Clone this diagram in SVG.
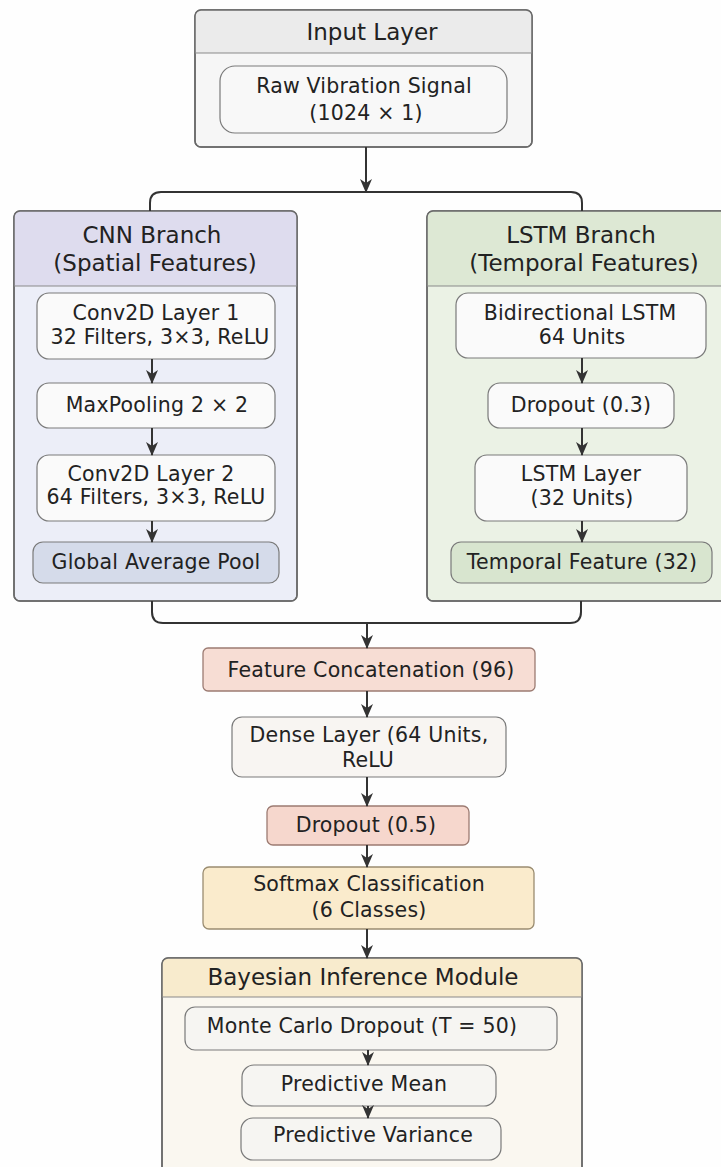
<svg xmlns="http://www.w3.org/2000/svg" width="721" height="1167" viewBox="0 0 721 1167">
<style>
text{font-family:"DejaVu Sans","Liberation Sans",sans-serif;fill:#222;text-anchor:middle;dominant-baseline:central}
.h{font-size:23px}
.b{font-size:20.5px;letter-spacing:0.2px}
.outer{stroke:#6a6a6a;stroke-width:1.5}
.inner{stroke:#7a7a7a;stroke-width:1.2}
.div{stroke:#8a8a8a;stroke-width:1.2}
.con{fill:none;stroke:#333;stroke-width:2}
</style>
<defs>
<marker id="ah" viewBox="0 0 14 12" refX="13" refY="6" markerWidth="14" markerHeight="12" markerUnits="userSpaceOnUse" orient="auto">
<path d="M0,0 L14,6 L0,12 L4,6 z" fill="#333"/>
</marker>
</defs>
<rect width="721" height="1167" fill="#fefefe"/>

<g id="input-layer">
<rect x="195" y="10" width="337" height="137" rx="6" fill="#f6f6f6" class="outer"/>
<path d="M195,53 V16 Q195,10 201,10 H526 Q532,10 532,16 V53 Z" fill="#ebebeb"/>
<rect x="195" y="10" width="337" height="137" rx="6" fill="none" class="outer"/>
<line x1="195" y1="53" x2="532" y2="53" class="div"/>
<text class="h" x="372" y="32">Input Layer</text>
</g>
<g id="raw-signal">
<rect x="220" y="66" width="287" height="67" rx="15" fill="#f8f8f8" class="inner"/>
<text class="b" x="364" y="86">Raw Vibration Signal</text>
<text class="b" x="366" y="113">(1024 × 1)</text>
</g>

<g id="cnn-branch">
<rect x="14" y="211" width="283" height="390" rx="6" fill="#eceef8" class="outer"/>
<path d="M14,286 V217 Q14,211 20,211 H291 Q297,211 297,217 V286 Z" fill="#dedcee"/>
<rect x="14" y="211" width="283" height="390" rx="6" fill="none" class="outer"/>
<line x1="14" y1="286" x2="297" y2="286" class="div"/>
<text class="h" x="152" y="235">CNN Branch</text>
<text class="h" x="155" y="263">(Spatial Features)</text>
</g>
<g id="conv1">
<rect x="37" y="293" width="238" height="66" rx="12" fill="#fafafa" class="inner"/>
<text class="b" x="156" y="313">Conv2D Layer 1</text>
<text class="b" x="160" y="337">32 Filters, 3×3, ReLU</text>
</g>
<g id="maxpool">
<rect x="37" y="383" width="238" height="45" rx="12" fill="#fafafa" class="inner"/>
<text class="b" x="157" y="405">MaxPooling 2 × 2</text>
</g>
<g id="conv2">
<rect x="37" y="455" width="238" height="66" rx="12" fill="#fafafa" class="inner"/>
<text class="b" x="151" y="474">Conv2D Layer 2</text>
<text class="b" x="156" y="497">64 Filters, 3×3, ReLU</text>
</g>
<g id="gap">
<rect x="33" y="542" width="246" height="41" rx="10" fill="#d5dbea" class="inner"/>
<text class="b" x="156" y="562">Global Average Pool</text>
</g>

<g id="lstm-branch">
<rect x="427" y="211" width="310" height="390" rx="6" fill="#ebf2e5" class="outer"/>
<path d="M427,286 V217 Q427,211 433,211 H737 V286 Z" fill="#dde8d4"/>
<rect x="427" y="211" width="310" height="390" rx="6" fill="none" class="outer"/>
<line x1="427" y1="286" x2="737" y2="286" class="div"/>
<text class="h" x="581" y="235">LSTM Branch</text>
<text class="h" x="584" y="263">(Temporal Features)</text>
</g>
<g id="bilstm">
<rect x="456" y="293" width="250" height="65" rx="12" fill="#fafafa" class="inner"/>
<text class="b" x="580" y="313">Bidirectional LSTM</text>
<text class="b" x="582" y="337">64 Units</text>
</g>
<g id="dropout03">
<rect x="488" y="383" width="186" height="45" rx="12" fill="#fafafa" class="inner"/>
<text class="b" x="581" y="405">Dropout (0.3)</text>
</g>
<g id="lstm-layer">
<rect x="475" y="455" width="212" height="66" rx="12" fill="#fafafa" class="inner"/>
<text class="b" x="581" y="474">LSTM Layer</text>
<text class="b" x="582" y="498">(32 Units)</text>
</g>
<g id="temporal-feature">
<rect x="451" y="542" width="261" height="41" rx="10" fill="#d8e5cf" class="inner"/>
<text class="b" x="582" y="562">Temporal Feature (32)</text>
</g>

<g id="concat">
<rect x="203" y="648" width="332" height="43" rx="5" fill="#f7ddd4" stroke="#9c7b72" stroke-width="1.3"/>
<text class="b" x="371" y="670">Feature Concatenation (96)</text>
</g>
<g id="dense">
<rect x="232" y="717" width="274" height="60" rx="10" fill="#f8f5f2" class="inner"/>
<text class="b" x="369" y="735">Dense Layer (64 Units,</text>
<text class="b" x="368" y="760">ReLU</text>
</g>
<g id="dropout05">
<rect x="267" y="806" width="202" height="39" rx="6" fill="#f6d7cd" stroke="#9c7b72" stroke-width="1.3"/>
<text class="b" x="366" y="825">Dropout (0.5)</text>
</g>
<g id="softmax">
<rect x="203" y="867" width="331" height="62" rx="6" fill="#faebcc" stroke="#9a8c70" stroke-width="1.3"/>
<text class="b" x="369" y="884">Softmax Classification</text>
<text class="b" x="369" y="910">(6 Classes)</text>
</g>

<g id="bayesian">
<rect x="162" y="958" width="420" height="230" rx="6" fill="#faf7f0" class="outer"/>
<path d="M162,997 V964 Q162,958 168,958 H576 Q582,958 582,964 V997 Z" fill="#f8ebcd"/>
<rect x="162" y="958" width="420" height="230" rx="6" fill="none" class="outer"/>
<line x1="162" y1="997" x2="582" y2="997" class="div"/>
<text class="h" x="363" y="977">Bayesian Inference Module</text>
</g>
<g id="mc-dropout">
<rect x="185" y="1007" width="372" height="43" rx="10" fill="#f6f5f2" class="inner"/>
<text class="b" x="362" y="1026">Monte Carlo Dropout (T = 50)</text>
</g>
<g id="pred-mean">
<rect x="242" y="1065" width="254" height="41" rx="12" fill="#f6f5f2" class="inner"/>
<text class="b" x="364" y="1084">Predictive Mean</text>
</g>
<g id="pred-var">
<rect x="241" y="1118" width="260" height="42" rx="12" fill="#f6f5f2" class="inner"/>
<text class="b" x="373" y="1135">Predictive Variance</text>
</g>

<g id="connectors">
<line x1="366" y1="147" x2="366" y2="192" class="con" marker-end="url(#ah)"/>
<path d="M150,211 V203 Q150,192 161,192 H571 Q582,192 582,203 V211" class="con"/>
<line x1="152" y1="359" x2="152" y2="383" class="con" marker-end="url(#ah)"/>
<line x1="152" y1="428" x2="152" y2="455" class="con" marker-end="url(#ah)"/>
<line x1="152" y1="521" x2="152" y2="542" class="con" marker-end="url(#ah)"/>
<line x1="582" y1="358" x2="582" y2="383" class="con" marker-end="url(#ah)"/>
<line x1="582" y1="428" x2="582" y2="455" class="con" marker-end="url(#ah)"/>
<line x1="582" y1="521" x2="582" y2="542" class="con" marker-end="url(#ah)"/>
<path d="M152,601 V612 Q152,623 163,623 H570 Q581,623 581,612 V601" class="con"/>
<line x1="367" y1="623" x2="367" y2="648" class="con" marker-end="url(#ah)"/>
<line x1="367" y1="691" x2="367" y2="717" class="con" marker-end="url(#ah)"/>
<line x1="367" y1="777" x2="367" y2="806" class="con" marker-end="url(#ah)"/>
<line x1="367" y1="845" x2="367" y2="867" class="con" marker-end="url(#ah)"/>
<line x1="367" y1="929" x2="367" y2="958" class="con" marker-end="url(#ah)"/>
<line x1="368" y1="1050" x2="368" y2="1065" class="con" marker-end="url(#ah)"/>
<line x1="368" y1="1106" x2="368" y2="1118" class="con" marker-end="url(#ah)"/>
</g>
</svg>
